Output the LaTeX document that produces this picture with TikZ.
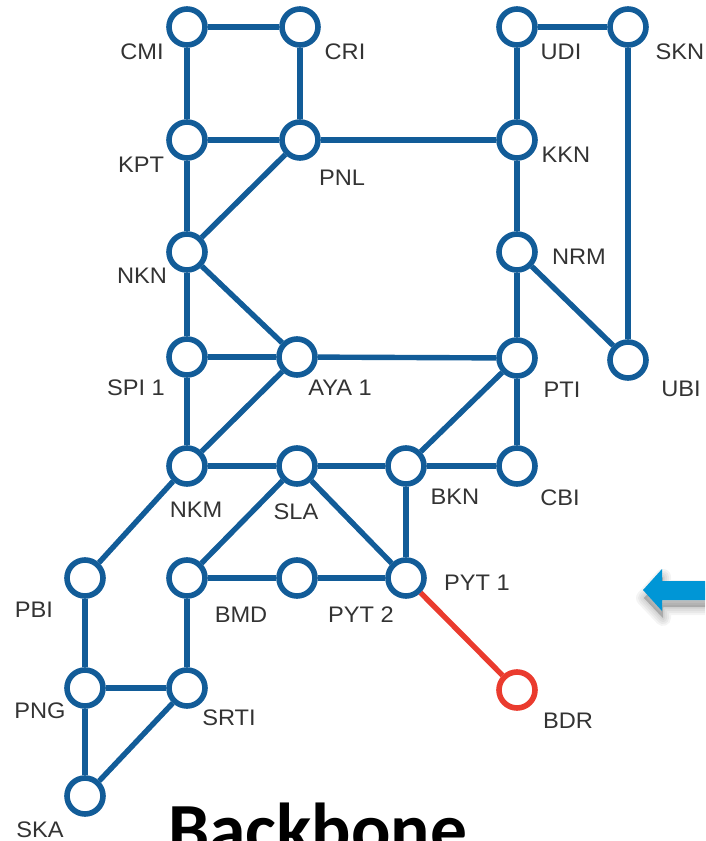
\documentclass[tikz,border=0pt]{standalone}
\usepackage{fontspec}
\setmainfont{Liberation Sans}[FakeStretch=1.05]
\newfontfamily\titlefont{Carlito}
\definecolor{netblue}{HTML}{125C98}
\definecolor{netred}{HTML}{EA3B2E}
\definecolor{lab}{HTML}{333333}
\definecolor{arrowblue}{HTML}{0096D6}
\tikzset{
  station/.style={circle,draw=netblue,line width=5.6pt,fill=white,minimum size=36pt,inner sep=0pt},
  redstation/.style={station,draw=netred},
  link/.style={draw=netblue,line width=5.4pt},
  redlink/.style={draw=netred,line width=5.4pt},
  lbl/.style={text=lab,font=\fontsize{22.5}{23}\selectfont,inner sep=0pt,anchor=center},
}
\begin{document}
\begin{tikzpicture}[x=1pt,y=-1pt]
\path[use as bounding box] (0,0) rectangle (705,841);
\clip (0,0) rectangle (705,841);
% stations
\foreach \n/\x/\y in {CMI/187/27,CRI/300/27,UDI/517/27,SKN/628/27,KPT/187/140,PNL/300/140,KKN/517/140,NKN/187/252,NRM/517/252,SPI/187/357,AYA/297/357,PTI/517/358,UBI/628/360,NKM/187/466,SLA/297/466,BKN/406/466,CBI/517/466,PBI/85/578,BMD/187/578,PYTB/297/578,PYTA/406/578,PNG/85/688,SRTI/187/688,SKA/85/796}
  \node[station] (\n) at (\x,\y) {};
\node[redstation] (BDR) at (517,690) {};
% links
\foreach \a/\b in {CMI/CRI,UDI/SKN,CMI/KPT,CRI/PNL,UDI/KKN,SKN/UBI,KPT/PNL,PNL/KKN,KPT/NKN,PNL/NKN,KKN/NRM,NKN/SPI,NKN/AYA,NRM/PTI,NRM/UBI,SPI/AYA,AYA/PTI,SPI/NKM,AYA/NKM,PTI/CBI,PTI/BKN,NKM/SLA,SLA/BKN,BKN/CBI,NKM/PBI,SLA/BMD,SLA/PYTA,BKN/PYTA,BMD/PYTB,PYTB/PYTA,BMD/SRTI,PBI/PNG,PNG/SRTI,PNG/SKA,SRTI/SKA}
  \draw[link] (\a) -- (\b);
\draw[redlink] (PYTA) -- (BDR);
% labels
\foreach \t/\x/\y in {CMI/142/52,CRI/345/52,UDI/561/52,SKN/680/52,KPT/141/165,PNL/342/178,KKN/566/155,NKN/142/276,NRM/579/257,SPI 1/136/388,AYA 1/340/388,PTI/562/390,UBI/681/389,NKM/196/510,SLA/296/512,BKN/455/497,CBI/560/498,PYT 1/477/583,PBI/34/610,BMD/241/615,PYT 2/361/615,PNG/40/711,SRTI/229/718,BDR/568/721,SKA/40/830}
  \node[lbl] (L\x) at (\x,\y) {\t};
% title
\node[font=\titlefont\bfseries\fontsize{73.5}{76}\selectfont,text=black,inner sep=0pt,anchor=base west] (title) at (168,854) {Backbone};
% arrow with soft shadow
\foreach \w in {16,12,8,4,0.5}
  \filldraw[black,opacity=0.045,line width=\w pt,line join=round,shift={(1,7)}] (643,591) -- (662,570) -- (662,581) -- (720,581) -- (720,600) -- (662,600) -- (662,611) -- cycle;
\fill[arrowblue] (643,590) -- (662,569) -- (662,581) -- (705,581) -- (705,600) -- (662,600) -- (662,611) -- cycle;
\end{tikzpicture}
\end{document}
